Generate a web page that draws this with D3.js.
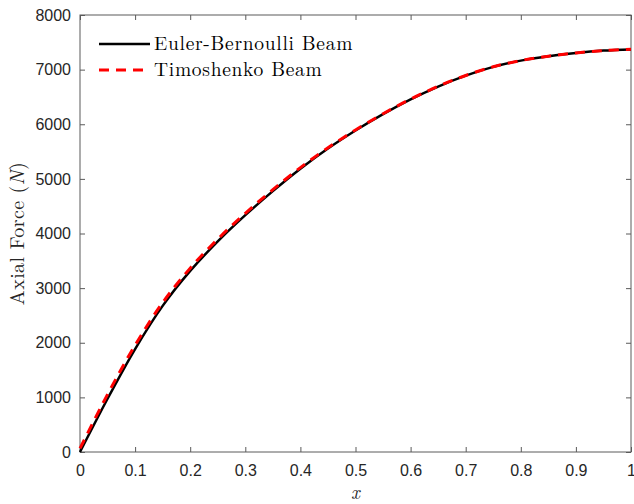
<!DOCTYPE html>
<html>
<head>
<meta charset="utf-8">
<script src="https://cdn.jsdelivr.net/npm/d3@7"></script>
<style>
  body { margin: 0; background: #fff; }
  svg { display: block; }
</style>
</head>
<body>
<div id="chart"></div>
<script>
// x positions along the beam
const xs = [0, 0.05, 0.1, 0.15, 0.2, 0.25, 0.3, 0.35, 0.4, 0.45, 0.5,
            0.55, 0.6, 0.65, 0.7, 0.75, 0.8, 0.85, 0.9, 0.95, 1];
// axial force (N)
const eulerForce = [0, 975, 1885, 2675, 3315, 3855, 4335, 4775, 5185, 5555, 5885,
                    6185, 6455, 6690, 6890, 7050, 7165, 7245, 7305, 7348, 7370];
const timoForce = [65, 1055, 1955, 2735, 3365, 3897, 4370, 4803, 5207, 5570, 5895,
                   6192, 6460, 6694, 6893, 7052, 7166, 7246, 7306, 7349, 7371];
const xTicks = [0, 0.1, 0.2, 0.3, 0.4, 0.5, 0.6, 0.7, 0.8, 0.9, 1];
const yTicks = [0, 1000, 2000, 3000, 4000, 5000, 6000, 7000, 8000];
const seriesNames = ["Euler-Bernoulli Beam", "Timoshenko Beam"];

const width = 634, height = 504;
const margin = {top: 15, right: 3, bottom: 52, left: 80};
const innerW = width - margin.left - margin.right;
const innerH = height - margin.top - margin.bottom;

const svg = d3.select("#chart").append("svg")
    .attr("width", width)
    .attr("height", height);

const g = svg.append("g")
    .attr("transform", `translate(${margin.left},${margin.top})`);

const x = d3.scaleLinear().domain([0, 1]).range([0, innerW]);
const y = d3.scaleLinear().domain([0, 8000]).range([innerH, 0]);

const axisColor = "#5a5a5a";
const labelColor = "#262626";
const tickFont = "'Liberation Sans', Arial, sans-serif";
const serifFont = "'Latin Modern Roman', 'CMU Serif', 'Liberation Serif', serif";

// axes, MATLAB style: ticks inside, on all four sides
function styleAxis(sel) {
    sel.select(".domain").remove();
    sel.selectAll(".tick line").attr("stroke", axisColor);
    sel.selectAll(".tick text")
        .attr("fill", labelColor)
        .style("font-family", tickFont)
        .style("font-size", "16px");
}

g.append("g")
    .attr("transform", `translate(0,${innerH})`)
    .call(d3.axisBottom(x).tickValues(xTicks).tickSize(-5).tickPadding(13)
        .tickFormat(d => String(d)))
    .call(styleAxis);

g.append("g")
    .call(d3.axisTop(x).tickValues(xTicks).tickSize(-5).tickFormat(""))
    .call(styleAxis);

g.append("g")
    .call(d3.axisLeft(y).tickValues(yTicks).tickSize(-5).tickPadding(9)
        .tickFormat(d3.format("d")))
    .call(styleAxis);

g.append("g")
    .attr("transform", `translate(${innerW},0)`)
    .call(d3.axisRight(y).tickValues(yTicks).tickSize(-5).tickFormat(""))
    .call(styleAxis);

g.append("rect")
    .attr("width", innerW)
    .attr("height", innerH)
    .attr("fill", "none")
    .attr("stroke", axisColor)
    .attr("stroke-width", 1);

// curves
const line = d3.line()
    .x(d => x(d[0]))
    .y(d => y(d[1]))
    .curve(d3.curveCatmullRom);

g.append("path")
    .datum(xs.map((v, i) => [v, eulerForce[i]]))
    .attr("d", line)
    .attr("fill", "none")
    .attr("stroke", "#000")
    .attr("stroke-width", 2.5);

g.append("path")
    .datum(xs.map((v, i) => [v, timoForce[i]]))
    .attr("d", line)
    .attr("fill", "none")
    .attr("stroke", "#ff0000")
    .attr("stroke-width", 3)
    .attr("stroke-dasharray", "10,7");

// legend
const legend = g.append("g").attr("transform", "translate(19,29)");
const legendStyles = [
    {stroke: "#000", width: 2.5, dash: null},
    {stroke: "#ff0000", width: 3, dash: "10,7"}
];
seriesNames.forEach((name, i) => {
    const row = legend.append("g").attr("transform", `translate(0,${i * 26})`);
    row.append("line")
        .attr("x1", 0).attr("x2", 51)
        .attr("stroke", legendStyles[i].stroke)
        .attr("stroke-width", legendStyles[i].width)
        .attr("stroke-dasharray", legendStyles[i].dash);
    row.append("text")
        .attr("x", 55)
        .attr("dy", "0.33em")
        .attr("fill", "#000")
        .style("font-family", serifFont)
        .style("font-size", "19.5px")
        .style("letter-spacing", "0.7px")
        .text(name);
});

// axis labels
svg.append("text")
    .attr("x", margin.left + innerW / 2)
    .attr("y", 499)
    .attr("text-anchor", "middle")
    .attr("fill", labelColor)
    .style("font-family", serifFont)
    .style("font-style", "italic")
    .style("font-size", "19px")
    .text("x");

const yLabel = svg.append("text")
    .attr("transform", `translate(24,${margin.top + innerH / 2}) rotate(-90)`)
    .attr("text-anchor", "middle")
    .attr("fill", labelColor)
    .style("font-family", serifFont)
    .style("font-size", "20px")
    .style("letter-spacing", "0.4px");
yLabel.append("tspan").text("Axial Force (");
yLabel.append("tspan").style("font-style", "italic").text("N");
yLabel.append("tspan").text(")");
</script>
</body>
</html>
